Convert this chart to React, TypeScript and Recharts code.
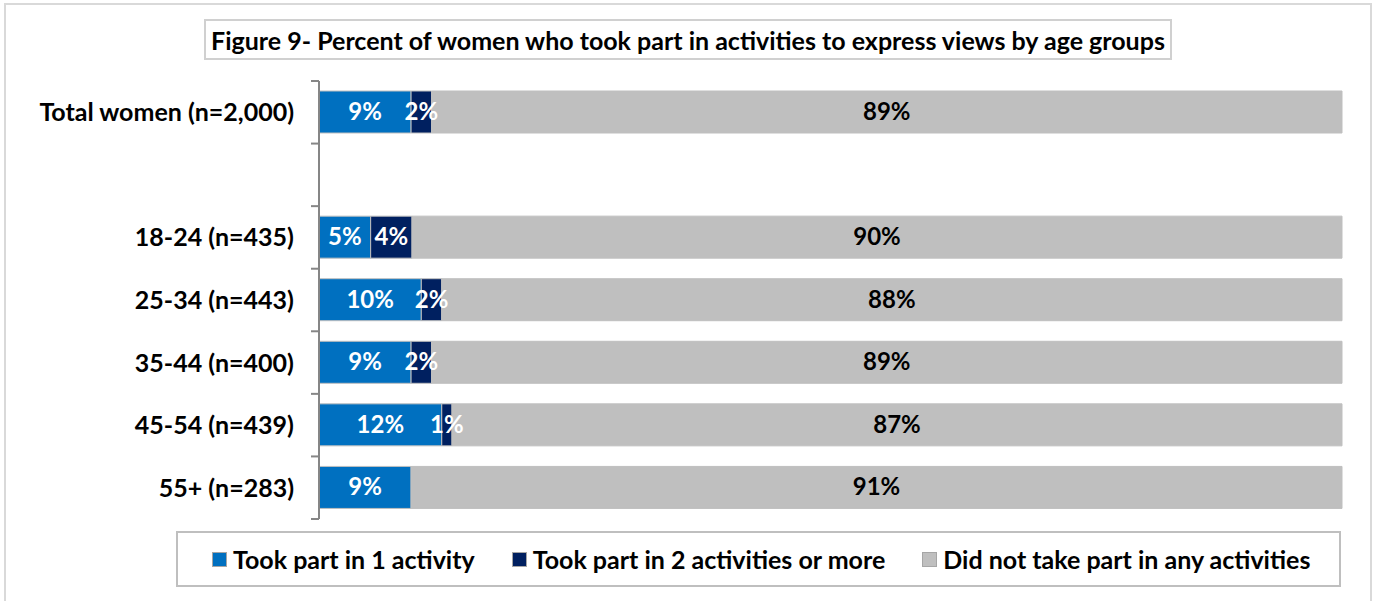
import React from 'react';
import { BarChart, Bar, XAxis, YAxis, LabelList } from 'recharts';

const categories = [
  'Total women (n=2,000)',
  '',
  '18-24 (n=435)',
  '25-34 (n=443)',
  '35-44 (n=400)',
  '45-54 (n=439)',
  '55+ (n=283)',
];
const oneActivity = [9, 0, 5, 10, 9, 12, 9];
const twoOrMore = [2, 0, 4, 2, 2, 1, 0];
const noActivity = [89, 0, 90, 88, 89, 87, 91];

const seriesNames = [
  'Took part in 1 activity',
  'Took part in 2 activities or more',
  'Did not take part in any activities',
];

const data = categories.map((name, i) => ({
  name,
  one: oneActivity[i],
  two: twoOrMore[i],
  none: noActivity[i],
}));

const FONT = 'Lato, "Open Sans", sans-serif';
const BLUE = '#0070C0';
const NAVY = '#002060';
const GREY = '#BFBFBF';

const PLOT_TOP = 81;
const PLOT_BOTTOM = 519;
const BAND = (PLOT_BOTTOM - PLOT_TOP) / categories.length;

const renderLabel = (fill: string) => (props: any) => {
  const { x, y, width, height, value } = props;
  if (!value) return null;
  return (
    <text
      x={x + width / 2}
      y={y + height / 2}
      dy={8}
      textAnchor="middle"
      fill={fill}
      fontFamily={FONT}
      fontWeight={700}
      fontSize={24}
    >
      {`${value}%`}
    </text>
  );
};

const CategoryTick = (props: any) => {
  const { x, y, payload, index } = props;
  const axisX = x + 25;
  return (
    <g>
      <text
        x={x}
        y={y}
        dy={9}
        textAnchor="end"
        fill="#000"
        fontFamily={FONT}
        fontWeight={700}
        fontSize={25}
      >
        {payload.value}
      </text>
      <line x1={axisX - 8} x2={axisX} y1={y - BAND / 2} y2={y - BAND / 2} stroke="#868686" strokeWidth={2} />
      {index === categories.length - 1 && (
        <line x1={axisX - 8} x2={axisX} y1={y + BAND / 2} y2={y + BAND / 2} stroke="#868686" strokeWidth={2} />
      )}
    </g>
  );
};

const legendItems = [
  { label: seriesNames[0], color: BLUE },
  { label: seriesNames[1], color: NAVY },
  { label: seriesNames[2], color: GREY },
];

export default function App() {
  return (
    <div
      style={{
        position: 'absolute',
        left: 0,
        top: 0,
        width: 1375,
        height: 601,
        background: '#fff',
        overflow: 'hidden',
        fontFamily: FONT,
      }}
    >
      <div
        style={{
          position: 'absolute',
          left: 4,
          top: 3,
          width: 1364,
          height: 620,
          border: '2px solid #D9D9D9',
        }}
      />
      <div
        style={{
          position: 'absolute',
          left: 204,
          top: 19,
          width: 964,
          height: 37,
          border: '2px solid #D0D0D0',
          display: 'flex',
          alignItems: 'center',
          justifyContent: 'center',
          fontWeight: 700,
          fontSize: 25,
          color: '#000',
          whiteSpace: 'nowrap',
        }}
      >
        Figure 9- Percent of women who took part in activities to express views by age groups
      </div>
      <div style={{ position: 'absolute', left: 0, top: 0 }}>
        <BarChart
          width={1375}
          height={601}
          data={data}
          layout="vertical"
          stackOffset="expand"
          barSize={42}
          margin={{ top: PLOT_TOP, right: 33, bottom: 601 - PLOT_BOTTOM, left: 0 }}
        >
          <XAxis type="number" domain={[0, 1]} hide />
          <YAxis
            type="category"
            dataKey="name"
            width={319}
            tickLine={false}
            tickMargin={17}
            tickSize={8}
            axisLine={{ stroke: '#868686', strokeWidth: 2 }}
            tick={<CategoryTick />}
            interval={0}
          />
          <Bar dataKey="one" stackId="a" fill={BLUE} stroke={GREY} strokeWidth={1} isAnimationActive={false}>
            <LabelList dataKey="one" content={renderLabel('#fff')} />
          </Bar>
          <Bar dataKey="two" stackId="a" fill={NAVY} stroke={GREY} strokeWidth={1} isAnimationActive={false}>
            <LabelList dataKey="two" content={renderLabel('#fff')} />
          </Bar>
          <Bar dataKey="none" stackId="a" fill={GREY} stroke={GREY} strokeWidth={1} isAnimationActive={false}>
            <LabelList dataKey="none" content={renderLabel('#000')} />
          </Bar>
        </BarChart>
      </div>
      <div
        style={{
          position: 'absolute',
          left: 176,
          top: 531,
          width: 1127,
          height: 52,
          border: '2px solid #BFBFBF',
          display: 'flex',
          alignItems: 'center',
          paddingLeft: 34,
          boxSizing: 'content-box',
          fontWeight: 700,
          fontSize: 25,
          whiteSpace: 'nowrap',
        }}
      >
        {legendItems.map((item, i) => (
          <div
            key={item.label}
            style={{ display: 'flex', alignItems: 'center', marginRight: i < 2 ? 37 : 0 }}
          >
            <span
              style={{
                display: 'inline-block',
                width: 13,
                height: 13,
                background: item.color,
                border: '1px solid #A6A6A6',
                marginRight: 6,
              }}
            />
            <span>{item.label}</span>
          </div>
        ))}
      </div>
    </div>
  );
}
